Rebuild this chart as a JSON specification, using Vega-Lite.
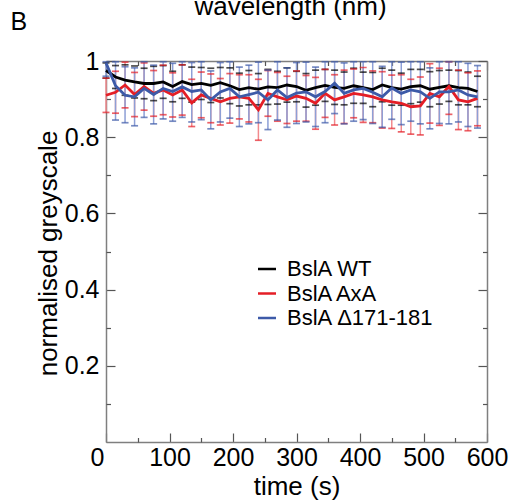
{
  "$schema": "https://vega.github.io/schema/vega-lite/v6.json",
  "width": 381,
  "height": 381,
  "autosize": {"type": "none"},
  "padding": {"left": 106, "top": 61, "right": 25, "bottom": 58},
  "background": "white",
  "config": {
    "view": {"stroke": null},
    "axis": {"grid": false, "labelFlush": false, "domainColor": "#7f7f7f", "domainWidth": 1.5, "tickColor": "#555555", "tickWidth": 1.2, "labelFont": "Liberation Sans", "labelColor": "black", "titleFont": "Liberation Sans", "titleColor": "black", "titleFontWeight": "normal", "labelFontSize": 25, "titleFontSize": 26}
  },
  "data": {"values": [
    {"t":0,"s":"BslA WT","m":0.975,"lo":0.955,"hi":0.995},
    {"t":15,"s":"BslA WT","m":0.958,"lo":0.928,"hi":0.988},
    {"t":30,"s":"BslA WT","m":0.950,"lo":0.910,"hi":0.990},
    {"t":45,"s":"BslA WT","m":0.945,"lo":0.903,"hi":0.987},
    {"t":60,"s":"BslA WT","m":0.941,"lo":0.901,"hi":0.981},
    {"t":75,"s":"BslA WT","m":0.941,"lo":0.896,"hi":0.986},
    {"t":90,"s":"BslA WT","m":0.945,"lo":0.902,"hi":0.988},
    {"t":105,"s":"BslA WT","m":0.933,"lo":0.893,"hi":0.973},
    {"t":120,"s":"BslA WT","m":0.946,"lo":0.902,"hi":0.990},
    {"t":135,"s":"BslA WT","m":0.938,"lo":0.892,"hi":0.984},
    {"t":150,"s":"BslA WT","m":0.941,"lo":0.899,"hi":0.983},
    {"t":165,"s":"BslA WT","m":0.936,"lo":0.891,"hi":0.981},
    {"t":180,"s":"BslA WT","m":0.943,"lo":0.903,"hi":0.983},
    {"t":195,"s":"BslA WT","m":0.935,"lo":0.888,"hi":0.982},
    {"t":210,"s":"BslA WT","m":0.925,"lo":0.882,"hi":0.968},
    {"t":225,"s":"BslA WT","m":0.930,"lo":0.885,"hi":0.975},
    {"t":240,"s":"BslA WT","m":0.926,"lo":0.885,"hi":0.967},
    {"t":255,"s":"BslA WT","m":0.932,"lo":0.886,"hi":0.978},
    {"t":270,"s":"BslA WT","m":0.930,"lo":0.887,"hi":0.973},
    {"t":285,"s":"BslA WT","m":0.937,"lo":0.892,"hi":0.982},
    {"t":300,"s":"BslA WT","m":0.933,"lo":0.893,"hi":0.973},
    {"t":315,"s":"BslA WT","m":0.923,"lo":0.879,"hi":0.967},
    {"t":330,"s":"BslA WT","m":0.930,"lo":0.884,"hi":0.976},
    {"t":345,"s":"BslA WT","m":0.936,"lo":0.894,"hi":0.978},
    {"t":360,"s":"BslA WT","m":0.931,"lo":0.886,"hi":0.976},
    {"t":375,"s":"BslA WT","m":0.928,"lo":0.885,"hi":0.971},
    {"t":390,"s":"BslA WT","m":0.935,"lo":0.889,"hi":0.981},
    {"t":405,"s":"BslA WT","m":0.930,"lo":0.889,"hi":0.971},
    {"t":420,"s":"BslA WT","m":0.925,"lo":0.880,"hi":0.970},
    {"t":435,"s":"BslA WT","m":0.937,"lo":0.893,"hi":0.981},
    {"t":450,"s":"BslA WT","m":0.930,"lo":0.884,"hi":0.976},
    {"t":465,"s":"BslA WT","m":0.926,"lo":0.884,"hi":0.968},
    {"t":480,"s":"BslA WT","m":0.933,"lo":0.888,"hi":0.978},
    {"t":495,"s":"BslA WT","m":0.935,"lo":0.892,"hi":0.978},
    {"t":510,"s":"BslA WT","m":0.926,"lo":0.880,"hi":0.972},
    {"t":525,"s":"BslA WT","m":0.931,"lo":0.887,"hi":0.975},
    {"t":540,"s":"BslA WT","m":0.935,"lo":0.894,"hi":0.976},
    {"t":555,"s":"BslA WT","m":0.930,"lo":0.885,"hi":0.975},
    {"t":570,"s":"BslA WT","m":0.928,"lo":0.885,"hi":0.971},
    {"t":585,"s":"BslA WT","m":0.920,"lo":0.880,"hi":0.960},
    {"t":0,"s":"BslA AxA","m":0.910,"lo":0.865,"hi":0.955},
    {"t":15,"s":"BslA AxA","m":0.918,"lo":0.863,"hi":0.973},
    {"t":30,"s":"BslA AxA","m":0.937,"lo":0.877,"hi":0.997},
    {"t":45,"s":"BslA AxA","m":0.912,"lo":0.854,"hi":0.970},
    {"t":60,"s":"BslA AxA","m":0.933,"lo":0.871,"hi":0.995},
    {"t":75,"s":"BslA AxA","m":0.915,"lo":0.855,"hi":0.975},
    {"t":90,"s":"BslA AxA","m":0.924,"lo":0.859,"hi":0.989},
    {"t":105,"s":"BslA AxA","m":0.911,"lo":0.853,"hi":0.969},
    {"t":120,"s":"BslA AxA","m":0.924,"lo":0.858,"hi":0.990},
    {"t":135,"s":"BslA AxA","m":0.890,"lo":0.828,"hi":0.952},
    {"t":150,"s":"BslA AxA","m":0.911,"lo":0.851,"hi":0.971},
    {"t":165,"s":"BslA AxA","m":0.902,"lo":0.838,"hi":0.966},
    {"t":180,"s":"BslA AxA","m":0.893,"lo":0.832,"hi":0.954},
    {"t":195,"s":"BslA AxA","m":0.902,"lo":0.837,"hi":0.967},
    {"t":210,"s":"BslA AxA","m":0.906,"lo":0.848,"hi":0.964},
    {"t":225,"s":"BslA AxA","m":0.902,"lo":0.840,"hi":0.964},
    {"t":240,"s":"BslA AxA","m":0.872,"lo":0.792,"hi":0.952},
    {"t":255,"s":"BslA AxA","m":0.915,"lo":0.855,"hi":0.975},
    {"t":270,"s":"BslA AxA","m":0.906,"lo":0.842,"hi":0.970},
    {"t":285,"s":"BslA AxA","m":0.898,"lo":0.836,"hi":0.960},
    {"t":300,"s":"BslA AxA","m":0.908,"lo":0.842,"hi":0.974},
    {"t":315,"s":"BslA AxA","m":0.902,"lo":0.842,"hi":0.962},
    {"t":330,"s":"BslA AxA","m":0.889,"lo":0.821,"hi":0.957},
    {"t":345,"s":"BslA AxA","m":0.915,"lo":0.852,"hi":0.978},
    {"t":360,"s":"BslA AxA","m":0.898,"lo":0.832,"hi":0.964},
    {"t":375,"s":"BslA AxA","m":0.906,"lo":0.836,"hi":0.976},
    {"t":390,"s":"BslA AxA","m":0.915,"lo":0.851,"hi":0.979},
    {"t":405,"s":"BslA AxA","m":0.911,"lo":0.839,"hi":0.983},
    {"t":420,"s":"BslA AxA","m":0.906,"lo":0.838,"hi":0.974},
    {"t":435,"s":"BslA AxA","m":0.898,"lo":0.824,"hi":0.972},
    {"t":450,"s":"BslA AxA","m":0.893,"lo":0.823,"hi":0.963},
    {"t":465,"s":"BslA AxA","m":0.889,"lo":0.814,"hi":0.964},
    {"t":480,"s":"BslA AxA","m":0.880,"lo":0.808,"hi":0.952},
    {"t":495,"s":"BslA AxA","m":0.882,"lo":0.806,"hi":0.958},
    {"t":510,"s":"BslA AxA","m":0.915,"lo":0.837,"hi":0.993},
    {"t":525,"s":"BslA AxA","m":0.906,"lo":0.831,"hi":0.981},
    {"t":540,"s":"BslA AxA","m":0.933,"lo":0.860,"hi":0.998},
    {"t":555,"s":"BslA AxA","m":0.898,"lo":0.820,"hi":0.976},
    {"t":570,"s":"BslA AxA","m":0.893,"lo":0.817,"hi":0.969},
    {"t":585,"s":"BslA AxA","m":0.902,"lo":0.830,"hi":0.974},
    {"t":0,"s":"BslA Δ171-181","m":0.995,"lo":0.960,"hi":0.998},
    {"t":15,"s":"BslA Δ171-181","m":0.935,"lo":0.845,"hi":0.998},
    {"t":30,"s":"BslA Δ171-181","m":0.910,"lo":0.838,"hi":0.985},
    {"t":45,"s":"BslA Δ171-181","m":0.906,"lo":0.830,"hi":0.982},
    {"t":60,"s":"BslA Δ171-181","m":0.928,"lo":0.852,"hi":0.998},
    {"t":75,"s":"BslA Δ171-181","m":0.912,"lo":0.835,"hi":0.989},
    {"t":90,"s":"BslA Δ171-181","m":0.928,"lo":0.848,"hi":0.998},
    {"t":105,"s":"BslA Δ171-181","m":0.920,"lo":0.842,"hi":0.994},
    {"t":120,"s":"BslA Δ171-181","m":0.932,"lo":0.852,"hi":0.998},
    {"t":135,"s":"BslA Δ171-181","m":0.920,"lo":0.840,"hi":0.996},
    {"t":150,"s":"BslA Δ171-181","m":0.924,"lo":0.846,"hi":0.998},
    {"t":165,"s":"BslA Δ171-181","m":0.898,"lo":0.822,"hi":0.974},
    {"t":180,"s":"BslA Δ171-181","m":0.919,"lo":0.840,"hi":0.996},
    {"t":195,"s":"BslA Δ171-181","m":0.928,"lo":0.850,"hi":0.998},
    {"t":210,"s":"BslA Δ171-181","m":0.906,"lo":0.828,"hi":0.984},
    {"t":225,"s":"BslA Δ171-181","m":0.912,"lo":0.835,"hi":0.989},
    {"t":240,"s":"BslA Δ171-181","m":0.918,"lo":0.838,"hi":0.997},
    {"t":255,"s":"BslA Δ171-181","m":0.898,"lo":0.820,"hi":0.976},
    {"t":270,"s":"BslA Δ171-181","m":0.924,"lo":0.845,"hi":0.998},
    {"t":285,"s":"BslA Δ171-181","m":0.904,"lo":0.826,"hi":0.982},
    {"t":300,"s":"BslA Δ171-181","m":0.916,"lo":0.836,"hi":0.996},
    {"t":315,"s":"BslA Δ171-181","m":0.919,"lo":0.840,"hi":0.997},
    {"t":330,"s":"BslA Δ171-181","m":0.906,"lo":0.828,"hi":0.984},
    {"t":345,"s":"BslA Δ171-181","m":0.920,"lo":0.838,"hi":0.998},
    {"t":360,"s":"BslA Δ171-181","m":0.942,"lo":0.862,"hi":0.998},
    {"t":375,"s":"BslA Δ171-181","m":0.915,"lo":0.835,"hi":0.995},
    {"t":390,"s":"BslA Δ171-181","m":0.924,"lo":0.842,"hi":0.998},
    {"t":405,"s":"BslA Δ171-181","m":0.928,"lo":0.846,"hi":0.998},
    {"t":420,"s":"BslA Δ171-181","m":0.918,"lo":0.836,"hi":0.998},
    {"t":435,"s":"BslA Δ171-181","m":0.906,"lo":0.826,"hi":0.986},
    {"t":450,"s":"BslA Δ171-181","m":0.929,"lo":0.847,"hi":0.998},
    {"t":465,"s":"BslA Δ171-181","m":0.915,"lo":0.833,"hi":0.997},
    {"t":480,"s":"BslA Δ171-181","m":0.924,"lo":0.842,"hi":0.998},
    {"t":495,"s":"BslA Δ171-181","m":0.919,"lo":0.835,"hi":0.998},
    {"t":510,"s":"BslA Δ171-181","m":0.902,"lo":0.822,"hi":0.982},
    {"t":525,"s":"BslA Δ171-181","m":0.919,"lo":0.836,"hi":0.998},
    {"t":540,"s":"BslA Δ171-181","m":0.919,"lo":0.835,"hi":0.998},
    {"t":555,"s":"BslA Δ171-181","m":0.924,"lo":0.840,"hi":0.998},
    {"t":570,"s":"BslA Δ171-181","m":0.911,"lo":0.828,"hi":0.994},
    {"t":585,"s":"BslA Δ171-181","m":0.906,"lo":0.824,"hi":0.988}
  ]},
  "resolve": {"axis": {"x": "independent", "y": "independent"}},
  "layer": [
    {
      "transform": [{"filter": "datum.s !== 'BslA WT'"}],
      "mark": {"type": "rule", "strokeWidth": 1.5},
      "encoding": {
        "x": {"field": "t", "type": "quantitative", "scale": {"domain": [0, 600], "nice": false, "zero": false},
          "axis": {"orient": "bottom", "values": [0,100,200,300,400,500,600], "tickSize": -9, "labelPadding": 12, "labelOffset": {"condition": {"test": "datum.value === 0", "value": -9}, "value": 0}, "title": "time (s)", "titleBaseline": "alphabetic", "titleY": 52}},
        "y": {"field": "lo", "type": "quantitative", "scale": {"domain": [0, 1], "nice": false, "zero": false},
          "axis": {"orient": "left", "values": [0.2,0.4,0.6,0.8,1], "format": "~g", "tickSize": -9, "labelPadding": 16, "title": "normalised greyscale", "titleAngle": 270, "titleBaseline": "alphabetic", "titleX": -50, "titleY": 192}},
        "y2": {"field": "hi"},
        "color": {"condition": {"test": "datum.s === 'BslA AxA'", "value": "#f28a8e"}, "value": "#8d9fd6"}
      }
    },
    {
      "mark": {"type": "tick", "orient": "horizontal", "size": 7, "thickness": 1.7},
      "encoding": {
        "x": {"field": "t", "type": "quantitative",
          "axis": {"orient": "bottom", "values": [50,150,250,350,450,550], "tickSize": -4.5, "labels": false, "domain": false, "title": null}},
        "y": {"field": "lo", "type": "quantitative",
          "axis": {"orient": "left", "values": [0.1,0.3,0.5,0.7,0.9], "tickSize": -4.5, "labels": false, "domain": false, "title": null}},
        "color": {"condition": [{"test": "datum.s === 'BslA WT'", "value": "#000000"}, {"test": "datum.s === 'BslA AxA'", "value": "#e41e26"}], "value": "#3d5aa8"}
      }
    },
    {
      "mark": {"type": "tick", "orient": "horizontal", "size": 7, "thickness": 1.7},
      "encoding": {
        "x": {"field": "t", "type": "quantitative",
          "axis": {"orient": "top", "values": [0,100,200,300,400,500,600], "tickSize": -9, "labels": false, "title": "wavelength (nm)", "titleBaseline": "alphabetic", "titleX": 184, "titleY": -47}},
        "y": {"field": "hi", "type": "quantitative",
          "axis": {"orient": "right", "values": [0.2,0.4,0.6,0.8,1], "tickSize": -9, "labels": false, "title": null}},
        "color": {"condition": [{"test": "datum.s === 'BslA WT'", "value": "#000000"}, {"test": "datum.s === 'BslA AxA'", "value": "#e41e26"}], "value": "#3d5aa8"}
      }
    },
    {
      "mark": {"type": "line", "strokeWidth": 2.8},
      "encoding": {
        "x": {"field": "t", "type": "quantitative",
          "axis": {"orient": "top", "values": [50,150,250,350,450,550], "tickSize": -4.5, "labels": false, "domain": false, "title": "B", "titleFontSize": 25, "titleAlign": "left", "titleBaseline": "alphabetic", "titleX": -96, "titleY": -32}},
        "y": {"field": "m", "type": "quantitative",
          "axis": {"orient": "right", "values": [0.1,0.3,0.5,0.7,0.9], "tickSize": -4.5, "labels": false, "domain": false, "title": null}},
        "color": {"field": "s", "type": "nominal",
          "scale": {"domain": ["BslA WT", "BslA AxA", "BslA Δ171-181"], "range": ["#000000", "#e41e26", "#3d5aa8"]},
          "legend": {"orient": "none", "legendX": 150, "legendY": 197, "title": null, "symbolType": "stroke", "symbolStrokeWidth": 2.5, "symbolSize": 324, "labelFontSize": 22, "labelFont": "Liberation Sans", "labelColor": "black", "rowPadding": 2.5, "labelOffset": 9, "padding": 0}}
      }
    }
  ]
}
